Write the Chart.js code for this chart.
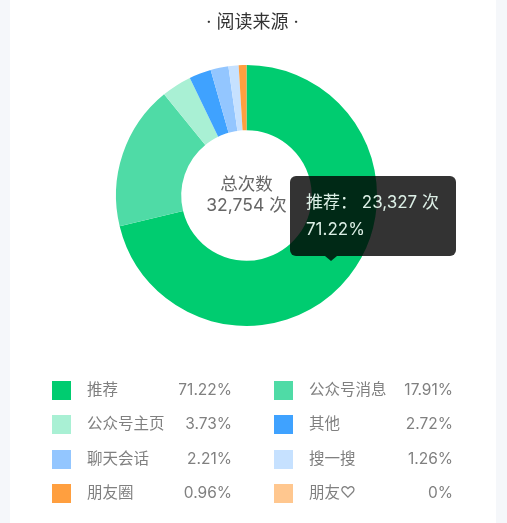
<!DOCTYPE html>
<html lang="zh">
<head>
<meta charset="utf-8">
<title>阅读来源</title>
<script src="https://cdn.jsdelivr.net/npm/chart.js@4"></script>
<style>
html,body{margin:0;padding:0;width:507px;height:523px;overflow:hidden;background:#f5f7fa;font-family:Inter,"Noto Sans CJK SC",sans-serif}
#card{position:absolute;left:10px;top:0;width:486px;height:523px;background:#fff}
#c{position:absolute;left:0;top:0}
.sw{position:absolute;width:19px;height:19px}
.lb,.vl{position:absolute;font-size:15.5px;line-height:20px;color:#808080;white-space:nowrap}
</style>
</head>
<body>
<div id="card"></div>
<canvas id="c" width="507" height="523"></canvas>
<div id="legend"></div>
<script>
const title = '· 阅读来源 ·';
const categories = ['推荐','公众号消息','公众号主页','其他','聊天会话','搜一搜','朋友圈','朋友♡'];
const shares = [71.22,17.91,3.73,2.72,2.21,1.26,0.96,0];
const shareLabels = ['71.22%','17.91%','3.73%','2.72%','2.21%','1.26%','0.96%','0%'];
const colors = ['#00cc70','#4fdba6','#a9f0d4','#3fa2ff','#93c6ff','#c6e1ff','#ff9f3f','#ffc78f'];
const centerLines = ['总次数','32,754 次'];
const tipLines = ['推荐： 23,327 次','71.22%'];
const FONT = 'Inter,"Noto Sans CJK SC"';

const overlay = {
  id:'overlay',
  afterDraw(chart){
    const g = chart.ctx;
    g.save();
    g.textBaseline='middle';
    g.textAlign='center';
    g.fillStyle='#333';
    g.font='18px '+FONT;
    g.fillText(title,252.5,23);
    g.fillStyle='#666';
    g.font='17.5px '+FONT;
    g.fillText(centerLines[0],246.5,184.5);
    g.fillText(centerLines[1],246.5,206);
    g.fillStyle='rgba(0,0,0,0.8)';
    g.beginPath();
    g.roundRect(290,176,166,80,6);
    g.fill();
    g.beginPath();
    g.moveTo(325,256);g.lineTo(331,261);g.lineTo(337,256);g.closePath();
    g.fill();
    g.fillStyle='#dcefe6';
    g.textAlign='left';
    g.font='17px '+FONT;
    g.fillText(tipLines[0],306,203);
    g.fillText(tipLines[1],306,230);
    g.restore();
  }
};

new Chart(document.getElementById('c'),{
  type:'doughnut',
  data:{labels:categories,datasets:[{data:shares,backgroundColor:colors,borderWidth:0,hoverOffset:0}]},
  options:{
    responsive:false,
    animation:false,
    cutout:'50%',
    layout:{padding:{left:116,right:130,top:65,bottom:197}},
    plugins:{legend:{display:false},tooltip:{enabled:false}},
    events:[]
  },
  plugins:[overlay]
});

const legend = document.getElementById('legend');
const rowY = [390.5,424.5,459,493.5];
const cols = [{sw:52,lb:87,vr:232},{sw:274,lb:309,vr:453}];
categories.forEach((name,i)=>{
  const col = cols[i%2], y = rowY[Math.floor(i/2)];
  legend.insertAdjacentHTML('beforeend',
    `<div class="sw" style="left:${col.sw}px;top:${y-9.5}px;background:${colors[i]}"></div>`+
    `<div class="lb" style="left:${col.lb}px;top:${y-10.5}px">${name}</div>`+
    `<div class="vl" style="right:${507-col.vr}px;top:${y-10.5}px">${shareLabels[i]}</div>`);
});
</script>
</body>
</html>
